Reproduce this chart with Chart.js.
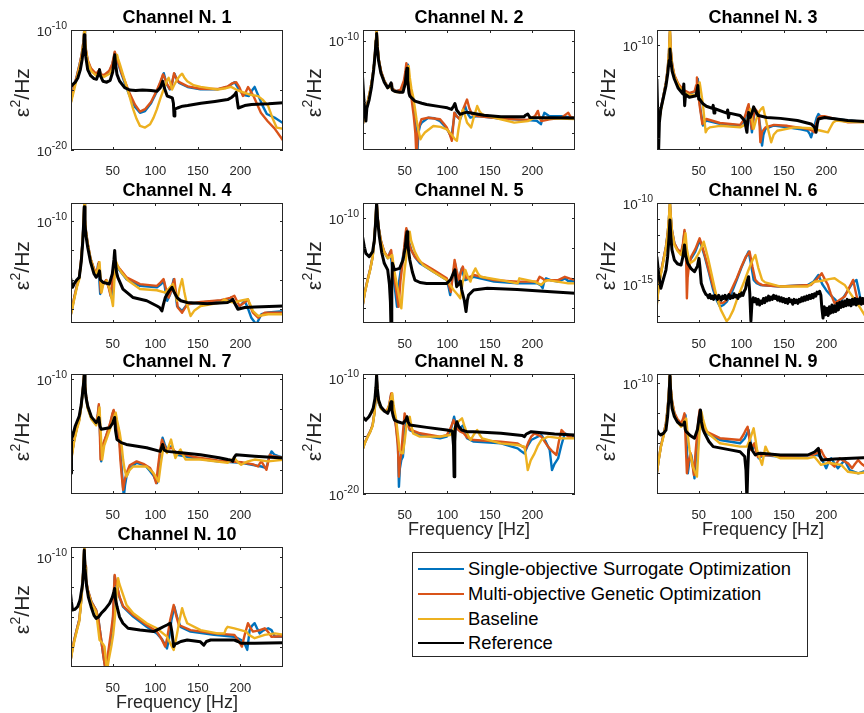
<!DOCTYPE html>
<html>
<head>
<meta charset="utf-8">
<script src="https://cdn.jsdelivr.net/npm/chart.js@4.4.1/dist/chart.umd.min.js"></script>
<style>
  html, body { margin: 0; padding: 0; background: #fff; }
  body { width: 864px; height: 713px; position: relative; overflow: hidden; font-family: "Liberation Sans", Arial, sans-serif; }
  canvas.panel { position: absolute; }
  #legend { position: absolute; left: 412px; top: 552px; width: 394px; height: 103px; border: 1px solid #262626; background: #fff; }
  #legend .row { position: absolute; left: 0; height: 24px; width: 392px; font-size: 18.4px; line-height: 24px; color: #000; }
  #legend .swatch { position: absolute; left: 5px; top: 11px; width: 46px; height: 2px; }
  #legend .label { position: absolute; left: 55px; white-space: nowrap; }
</style>
</head>
<body>
<div id="legend"></div>
<script>
// PSD per channel: [frequency in Hz, log10 of PSD]
const seriesNames = ["Single-objective Surrogate Optimization", "Multi-objective Genetic Optimization", "Baseline", "Reference"];
const channelNames = ["Channel N. 1", "Channel N. 2", "Channel N. 3", "Channel N. 4", "Channel N. 5",
                      "Channel N. 6", "Channel N. 7", "Channel N. 8", "Channel N. 9", "Channel N. 10"];
const xTicks = [50, 100, 150, 200];
const xRange = [1, 250];
// y limits as exponents
const yRanges = [[-20, -10], [-13.55, -9.65], [-13.39, -9.52], [-13.48, -9.38], [-13.5, -9.5],
                 [-17.41, -10], [-13.8, -9.83], [-20, -9.66], [-13.7, -9.7], [-13.67, -9.67]];
const yTickMarks = [[-20, -15, -10], [-13, -12, -11, -10], [-13, -12, -11, -10], [-13, -12, -11, -10], [-13, -12, -11, -10],
                    [-17, -16, -15, -14, -13, -12, -11, -10], [-13, -12, -11, -10], [-20, -15, -10], [-13, -12, -11, -10], [-13, -12, -11, -10]];
const yTickLabels = [[-20, -10], [-10], [-10], [-10], [-10], [-15, -10], [-10], [-20, -10], [-10], [-10]];

const ch1Surrogate = [[0,-16.3],[2.5,-15.4],[5,-14.6],[8,-13.8],[11,-12.9],[13.5,-12.1],[15.2,-11.2],[16.1,-10.5],[16.7,-10.0],[17.4,-10.7],[18.5,-11.7],[20.6,-12.6],[24.5,-13.3],[30.5,-13.7],[33,-13.5],[34.5,-13.35],[36,-13.75],[40,-13.8],[46,-13.45],[49.5,-12.9],[51.3,-12.3],[52.4,-11.9],[53.5,-12.2],[56,-12.7],[60,-13.6],[65,-14.6],[70,-15.5],[76,-16.4],[82,-16.9],[88,-16.75],[95,-16.1],[102,-15.1],[106,-14.4],[108.5,-13.9],[110,-13.6],[111.5,-14.0],[114,-14.6],[117,-14.95],[119,-14.7],[121,-14.0],[122.6,-13.65],[124.5,-14.0],[128,-14.4],[138,-14.75],[153,-14.95],[173,-14.95],[185,-14.75],[190,-14.5],[193,-14.35],[197,-14.8],[203,-15.4],[210,-15.5],[214,-15.0],[216.7,-14.74],[220,-15.3],[226,-16.3],[231,-17.0],[240,-17.3],[252,-17.85]];
const ch1Genetic = [[0,-16.3],[2.5,-15.4],[5,-14.6],[8,-13.8],[11,-12.9],[13.5,-12.05],[15.2,-11.15],[16.1,-10.45],[16.7,-9.95],[17.4,-10.65],[18.5,-11.6],[20.6,-12.5],[24.5,-13.2],[30.5,-13.65],[33,-13.45],[34.5,-13.3],[36,-13.7],[40,-13.75],[46,-13.4],[49.5,-12.8],[51.3,-12.2],[52.4,-11.8],[53.5,-12.1],[56,-12.6],[60,-13.5],[65,-14.4],[70,-15.3],[76,-16.2],[82,-16.8],[88,-16.6],[95,-16.0],[102,-15.0],[106,-14.3],[109,-13.7],[110.5,-13.9],[113,-14.4],[117,-14.9],[119.5,-14.5],[122,-13.6],[124,-13.95],[127,-14.3],[138,-14.7],[153,-14.9],[173,-14.92],[185,-14.7],[190,-14.45],[195,-14.35],[199,-14.8],[203,-15.5],[206,-15.2],[209,-14.75],[212,-15.1],[216,-15.6],[224,-16.9],[232,-17.6],[240,-18.2],[252,-19.4]];
const ch1Baseline = [[0,-16.34],[2.5,-15.6],[5,-14.9],[8,-14.0],[11,-13.1],[13.5,-12.3],[15.2,-11.3],[16.1,-10.6],[16.6,-10.06],[17.3,-10.7],[18.5,-11.7],[20.6,-12.6],[24.5,-13.4],[30.5,-13.8],[33,-13.65],[34.5,-13.53],[36,-13.85],[40,-13.9],[46.4,-13.64],[51,-13.1],[53.5,-12.5],[55.1,-12.07],[56.3,-12.4],[58.2,-12.8],[62,-13.7],[66.2,-14.68],[70,-15.6],[74.1,-16.61],[78,-17.4],[82,-17.99],[88,-18.13],[93.9,-17.85],[98,-17.3],[101.8,-16.61],[106,-15.7],[109.7,-14.96],[113,-14.3],[115.7,-13.99],[117.5,-14.4],[119.7,-14.96],[122,-14.6],[125.6,-14.13],[129,-13.8],[131.5,-13.64],[134,-13.95],[137.5,-14.27],[145,-14.6],[153.3,-14.74],[173.1,-14.96],[183,-14.85],[189,-14.74],[196,-15.0],[204.8,-15.23],[212,-15.4],[220.7,-15.51],[226,-15.8],[232.6,-16.34],[238,-17.4],[242.5,-18.13],[252,-18.26]];
const ch1Reference = [[0,-14.82],[3,-14.55],[6,-14.35],[9,-14.0],[12,-13.3],[14,-12.5],[15.5,-11.6],[16.2,-10.9],[16.7,-10.4],[17.3,-11.1],[18.3,-12.2],[20.6,-13.3],[24,-13.8],[28,-14.05],[31,-14.1],[33,-13.7],[34.5,-13.3],[35.5,-13.8],[38.5,-14.27],[43,-14.35],[47,-14.2],[50,-13.5],[51.5,-12.6],[52.4,-12.07],[53.3,-12.8],[55,-13.7],[58,-14.25],[64,-14.8],[70,-15.0],[77,-15.05],[85,-15.0],[95,-15.05],[102,-15.1],[106,-14.8],[108.7,-14.27],[110.5,-14.8],[114,-15.5],[120,-15.65],[121.3,-16.1],[122,-17.16],[123,-16.6],[126,-16.5],[132,-16.35],[138,-16.3],[153.6,-16.1],[170,-15.95],[185,-15.8],[190,-15.6],[193,-15.4],[195,-15.2],[196.5,-16.0],[197.5,-16.5],[205,-16.3],[213,-16.2],[233,-16.15],[252,-16.06]];

const ch2Surrogate = [[0.4,-12.77],[3,-12.4],[6.3,-12.02],[9.5,-11.6],[12.3,-11.16],[14.3,-10.7],[15.8,-10.2],[17,-9.7],[18,-10.2],[19.5,-10.6],[22,-10.99],[26,-11.3],[30,-11.5],[33,-11.45],[34,-11.4],[35,-11.55],[40,-11.64],[46,-11.6],[49.5,-11.35],[51.5,-11.0],[52.7,-10.78],[53.8,-11.1],[56,-11.45],[58,-11.69],[60,-12.0],[62,-12.45],[63.5,-13.0],[64.6,-13.8],[66,-13.0],[68,-12.75],[70,-12.66],[77.7,-12.5],[85,-12.52],[91.5,-12.61],[97,-12.78],[101,-12.93],[105,-13.14],[106.5,-12.8],[109,-12.34],[111,-12.45],[115,-12.55],[118,-12.35],[121,-12.12],[123.5,-12.35],[127,-12.5],[135,-12.45],[163,-12.53],[194.5,-12.58],[205,-12.6],[210,-12.71],[212,-12.5],[214,-12.34],[220,-12.45],[234,-12.45],[252,-12.52]];
const ch2Genetic = [[0.4,-12.77],[3,-12.4],[6.3,-12.02],[9.5,-11.6],[12.3,-11.16],[14.3,-10.7],[15.8,-10.15],[17,-9.67],[18,-10.15],[19.5,-10.6],[22.2,-10.99],[26,-11.3],[30.1,-11.5],[33,-11.45],[34.1,-11.4],[35,-11.55],[40,-11.64],[45,-11.6],[49,-11.3],[50.8,-11.0],[51.9,-10.73],[53,-11.05],[55,-11.45],[57.1,-11.69],[60.6,-12.45],[62.5,-13.0],[63.8,-13.8],[65.5,-12.9],[69.7,-12.55],[77.7,-12.5],[91.5,-12.55],[96,-12.7],[99.4,-12.82],[103,-13.05],[105.4,-13.25],[106.8,-12.8],[108.2,-12.34],[111,-12.45],[114.5,-12.55],[119,-12.2],[123.2,-11.91],[126,-12.2],[129.2,-12.39],[135.1,-12.45],[162.8,-12.53],[194.5,-12.57],[203,-12.45],[206.4,-12.28],[208.5,-12.5],[210.4,-12.61],[220,-12.55],[234.2,-12.5],[239,-12.4],[242.1,-12.34],[245,-12.48],[252.4,-12.52]];
const ch2Baseline = [[0.4,-12.77],[3,-12.4],[6.3,-12.04],[9.5,-11.62],[12.3,-11.18],[14.3,-10.72],[15.8,-10.15],[17,-9.67],[18,-10.15],[19.5,-10.62],[22.2,-11.03],[26,-11.32],[30.1,-11.53],[33,-11.5],[34.1,-11.45],[35,-11.58],[40,-11.67],[47,-11.67],[51,-11.4],[53.3,-11.1],[54.7,-10.83],[56,-11.2],[57.8,-11.55],[59.8,-11.8],[62,-12.2],[63.8,-12.55],[66,-12.9],[68.5,-13.2],[70.5,-13.1],[73.7,-12.98],[83.6,-12.77],[92,-12.8],[99.4,-12.88],[105,-13.05],[109,-13.2],[111.3,-13.25],[113,-12.9],[115.5,-12.5],[118.5,-12.23],[121,-12.45],[123.2,-12.66],[128,-12.82],[131,-12.5],[135.1,-12.12],[138,-12.3],[141,-12.39],[162.8,-12.55],[178.7,-12.66],[194.5,-12.61],[202.5,-12.5],[252.4,-12.55]];
const ch2Reference = [[0.4,-11.16],[2,-11.9],[3.5,-12.4],[4.4,-12.61],[5.5,-12.2],[8.3,-11.91],[11,-11.5],[13.5,-10.95],[15.3,-10.4],[16.3,-10.0],[17,-9.76],[17.8,-10.2],[19.3,-10.65],[22,-11.05],[26,-11.35],[30,-11.53],[32.5,-11.45],[34,-11.37],[35.5,-11.6],[38,-11.64],[44,-11.67],[48,-11.67],[50.5,-11.4],[52,-11.0],[52.7,-10.89],[53.5,-11.3],[55,-11.7],[56,-11.8],[62,-11.96],[70,-12.03],[75.7,-12.07],[91.5,-12.14],[100,-12.18],[105,-12.23],[107.5,-12.12],[109,-12.04],[111,-12.25],[115,-12.39],[119,-12.35],[123,-12.32],[143,-12.42],[163,-12.47],[190,-12.47],[192,-12.42],[194.5,-12.38],[197,-12.49],[252,-12.51]];

const ch3Surrogate = [[0.8,-13.04],[3,-12.5],[5.5,-12.07],[8.5,-11.65],[11.5,-11.21],[13.5,-10.8],[15,-10.3],[16.2,-9.6],[17.2,-10.2],[18.8,-10.65],[21.4,-11.0],[26,-11.3],[31.3,-11.48],[39.2,-11.58],[43,-11.53],[47,-11.5],[48.3,-11.3],[49,-11.1],[50,-11.5],[52,-12.07],[55,-12.6],[57,-12.5],[59,-12.44],[75,-12.55],[98.6,-12.6],[102,-12.5],[104.6,-12.34],[107,-12.1],[108.6,-11.96],[110,-12.3],[112.5,-12.82],[114.5,-12.35],[116.5,-12.12],[118.5,-12.2],[120.4,-12.28],[122.5,-12.7],[124.4,-13.25],[126,-12.9],[128.4,-12.71],[138.3,-12.6],[154,-12.66],[170,-12.72],[178,-12.77],[180.5,-12.88],[182,-12.98],[184,-12.8],[186,-12.6],[188.5,-12.35],[190.6,-12.23],[193,-12.3],[197.7,-12.34],[225,-12.44],[252,-12.5]];
const ch3Genetic = [[0.8,-13.04],[3,-12.5],[5.5,-12.07],[8.5,-11.65],[11.5,-11.21],[13.5,-10.78],[15,-10.25],[16.2,-9.54],[17.2,-10.15],[18.8,-10.62],[21.4,-10.97],[26,-11.25],[31.3,-11.44],[39.2,-11.55],[45.2,-11.5],[47,-11.3],[47.9,-11.05],[49,-11.45],[51.1,-11.96],[54.3,-12.55],[56,-12.45],[59,-12.39],[74.9,-12.52],[98.7,-12.58],[102,-12.45],[104.6,-12.28],[107,-12.05],[108.6,-11.91],[110,-12.25],[112.5,-12.71],[114.5,-12.3],[116.5,-12.07],[118.5,-12.15],[120.4,-12.23],[121.5,-12.6],[122.4,-13.14],[124.5,-12.8],[128.4,-12.66],[138.3,-12.58],[154.1,-12.61],[177.9,-12.71],[183,-12.76],[185.8,-12.82],[188,-12.55],[190.6,-12.34],[193,-12.3],[197.7,-12.3],[225.4,-12.5],[252,-12.48]];
const ch3Baseline = [[0.8,-13.04],[3,-12.55],[5.5,-12.12],[8.5,-11.7],[11.5,-11.26],[13.5,-10.85],[15,-10.3],[16.2,-9.51],[17.2,-10.2],[18.8,-10.68],[21.4,-11.01],[26,-11.3],[31.3,-11.51],[39.2,-11.62],[47.1,-11.6],[49.5,-11.45],[51.1,-11.21],[53,-11.55],[55.1,-11.96],[57,-12.5],[58.2,-12.82],[60,-12.72],[63,-12.66],[74.9,-12.61],[98.7,-12.66],[104,-12.58],[106.6,-12.5],[108.8,-12.25],[110.5,-12.07],[112.5,-12.4],[114.5,-12.71],[117,-12.45],[120.4,-12.18],[123,-12.08],[125.6,-12.01],[128,-12.3],[130.4,-12.61],[133,-12.9],[135.1,-13.14],[138,-12.9],[142.2,-12.77],[162,-12.66],[181.9,-12.69],[193.7,-12.77],[201.7,-12.82],[205,-12.65],[208,-12.5],[211.6,-12.44],[225.4,-12.48],[252,-12.5]];
const ch3Reference = [[0.8,-11.1],[1.8,-12.2],[2.8,-13.5],[3.8,-12.5],[5.5,-12.07],[8.5,-11.7],[11.5,-11.32],[13.5,-10.95],[15.2,-10.5],[16.2,-10.13],[17.2,-10.5],[18.8,-10.85],[21.4,-11.1],[26,-11.4],[31.3,-11.58],[32.5,-11.26],[33.5,-11.96],[34.5,-11.6],[39,-11.69],[47,-11.64],[49,-11.31],[50,-11.75],[51,-11.75],[55,-11.9],[59,-11.98],[66,-12.05],[67,-11.95],[68,-12.2],[69,-12.06],[83,-12.2],[84,-12.1],[85,-12.35],[86,-12.2],[98.6,-12.28],[104,-12.45],[106.6,-12.82],[107.5,-12.5],[108.6,-12.18],[110.5,-12.34],[112.5,-12.2],[114.5,-12.0],[117,-12.15],[120,-12.28],[130,-12.34],[146,-12.37],[166,-12.44],[182,-12.55],[186,-12.65],[187.8,-12.82],[189.2,-12.55],[190.6,-12.39],[198,-12.34],[225,-12.44],[252,-12.48]];

const ch4Surrogate = [[0,-13.3],[2.5,-12.95],[4.8,-12.61],[8,-12.2],[10.7,-11.92],[13,-11.3],[14.8,-10.6],[15.9,-9.95],[16.6,-9.39],[17.4,-9.95],[18.6,-10.35],[20.6,-10.77],[24,-11.3],[28,-11.65],[30.5,-11.8],[32,-11.65],[32.9,-11.46],[34,-11.9],[35.3,-12.49],[37.5,-12.2],[42.4,-12.03],[46,-12.3],[48.3,-12.61],[50,-12.1],[51.5,-11.6],[52.3,-11.35],[54,-11.5],[58.2,-11.69],[66,-11.98],[82,-12.21],[102,-12.26],[107,-12.15],[110,-12.03],[112,-12.4],[114,-12.72],[117.7,-12.49],[120,-12.2],[121.6,-11.98],[123.5,-12.4],[125.6,-12.9],[131.5,-13.07],[137.5,-12.84],[153,-12.78],[177,-12.72],[185,-12.68],[189,-12.61],[192,-12.75],[197,-12.95],[201,-12.85],[205,-12.72],[209,-13.0],[212.8,-13.3],[218.7,-13.53],[224.6,-13.18],[232.6,-13.12],[252,-13.07]];
const ch4Genetic = [[0,-13.3],[2.5,-12.95],[4.8,-12.61],[8,-12.2],[10.7,-11.92],[13,-11.28],[14.8,-10.58],[15.9,-9.93],[16.6,-9.37],[17.4,-9.93],[18.6,-10.33],[20.6,-10.75],[24,-11.28],[28,-11.62],[30.5,-11.78],[32.5,-11.6],[33.7,-11.4],[34.8,-11.9],[36.1,-12.44],[38.5,-12.15],[42.4,-12.01],[45.5,-12.3],[47.5,-12.55],[50,-11.95],[51.5,-11.5],[52.3,-11.29],[54,-11.45],[58.2,-11.63],[66.2,-11.92],[82,-12.15],[101.8,-12.21],[106,-12.1],[109.7,-11.98],[112.5,-12.3],[115.7,-12.61],[118.5,-12.38],[121,-12.1],[122.4,-11.98],[124,-12.4],[126.4,-12.95],[131.5,-13.13],[137.5,-12.84],[153.3,-12.76],[177.1,-12.7],[188,-12.62],[192.9,-12.55],[195.5,-12.7],[198.9,-12.9],[204,-12.8],[208.8,-12.67],[211.5,-12.9],[214.7,-13.13],[220.7,-13.3],[228.6,-13.13],[252,-13.13]];
const ch4Baseline = [[0,-13.3],[2.5,-13.0],[4.8,-12.67],[8,-12.25],[10.7,-11.98],[13,-11.35],[14.8,-10.62],[15.9,-9.97],[16.6,-9.39],[17.4,-9.97],[18.6,-10.38],[20.6,-10.79],[24,-11.3],[28,-11.68],[30.5,-11.83],[33,-11.6],[34.5,-11.4],[35.6,-11.9],[36.8,-12.44],[39,-12.15],[43.2,-12.03],[47,-12.4],[50.3,-12.9],[52,-12.0],[53.3,-11.55],[54.3,-11.4],[56,-11.55],[60.2,-11.75],[68.1,-12.03],[82,-12.32],[101.8,-12.36],[111.7,-12.44],[116,-12.3],[120.8,-12.15],[123,-12.4],[125.6,-12.72],[128.5,-12.3],[131.5,-11.98],[134,-12.4],[136.7,-12.78],[141.4,-13.24],[146,-13.05],[153.3,-12.9],[177.1,-12.78],[181.1,-12.67],[186,-12.75],[192.9,-12.78],[200,-12.72],[208.8,-12.67],[211.5,-12.85],[214.7,-13.07],[220.7,-13.24],[232.6,-13.18],[252,-13.18]];
const ch4Reference = [[0,-11.86],[1.5,-12.1],[2.8,-12.26],[5.5,-12.1],[8,-12.0],[10.7,-11.92],[13,-11.4],[14.8,-10.7],[15.9,-10.05],[16.6,-9.51],[17.4,-10.1],[18.6,-10.5],[20.6,-10.89],[24,-11.4],[28,-11.8],[30.5,-11.92],[33.5,-11.8],[34.5,-11.7],[35.5,-12.0],[38.5,-12.09],[46,-12.15],[49.5,-11.8],[51.5,-11.3],[52.3,-11.0],[53.2,-11.4],[54.5,-11.75],[56,-11.92],[62,-12.32],[74,-12.61],[90,-12.72],[102,-12.9],[105,-12.95],[107.8,-13.07],[109.5,-12.85],[111.7,-12.61],[116,-12.4],[119.6,-12.26],[122.5,-12.45],[125.6,-12.61],[130,-12.72],[137.5,-12.78],[161,-12.82],[185,-12.78],[189,-12.72],[191,-12.67],[194,-12.85],[197,-13.01],[205,-12.95],[217,-12.93],[252,-12.9]];

const ch5Surrogate = [[0.4,-12.96],[3,-12.5],[6.3,-12.07],[9.5,-11.7],[12.3,-11.29],[14.3,-10.75],[15.8,-10.1],[17,-9.46],[18,-9.95],[19.5,-10.35],[22.2,-10.79],[26,-11.15],[30.1,-11.34],[32,-11.2],[33,-11.12],[34.5,-11.45],[36,-11.84],[38.5,-12.35],[41,-12.96],[43.5,-12.1],[46,-11.62],[49,-11.1],[51.5,-10.6],[52.7,-10.4],[54,-10.7],[57.8,-11.07],[62,-11.3],[67.8,-11.51],[83.6,-11.79],[99.4,-12.07],[101.5,-12.3],[103.4,-12.57],[106,-12.0],[109,-11.51],[111,-11.85],[113,-12.18],[115,-11.9],[117,-11.68],[119,-11.9],[121,-12.07],[131,-11.96],[155,-12.12],[182.6,-12.18],[206,-12.18],[210,-12.25],[212,-12.34],[214,-12.1],[216,-12.01],[222,-12.08],[230,-12.12],[236,-12.05],[238,-12.01],[242,-12.1],[252,-12.12]];
const ch5Genetic = [[0.4,-12.96],[3,-12.5],[6.3,-12.07],[9.5,-11.7],[12.3,-11.29],[14.3,-10.73],[15.8,-10.05],[17,-9.42],[18,-9.92],[19.5,-10.33],[22.2,-10.77],[26,-11.12],[30.1,-11.31],[33,-11.15],[34.1,-11.07],[35.5,-11.45],[36.8,-11.79],[40,-12.4],[42.8,-12.96],[45,-12.1],[47.1,-11.6],[49.5,-10.95],[51,-10.5],[51.9,-10.34],[53.5,-10.7],[57.1,-11.04],[62,-11.3],[67.8,-11.46],[83.6,-11.73],[99.4,-12.01],[102,-12.25],[104.2,-12.46],[106.5,-11.9],[108.6,-11.4],[111,-11.75],[113.7,-12.07],[116,-11.8],[118.2,-11.62],[120.5,-11.85],[122.6,-12.01],[131.3,-11.9],[155,-12.07],[182.6,-12.12],[205.6,-12.12],[208.4,-11.96],[211,-12.0],[214.4,-12.07],[230.2,-12.07],[238.1,-11.96],[244,-12.02],[252.4,-12.07]];
const ch5Baseline = [[0.4,-12.96],[3,-12.52],[6.3,-12.1],[9.5,-11.72],[12.3,-11.31],[14.3,-10.75],[15.8,-10.05],[17,-9.42],[18,-9.95],[19.5,-10.37],[22.2,-10.81],[26,-11.15],[30.1,-11.34],[33.5,-11.28],[35.3,-11.23],[36.5,-11.5],[38,-11.79],[42,-12.4],[46,-13.01],[48,-12.3],[49.9,-11.73],[53,-11.0],[55,-10.6],[55.9,-10.46],[57.5,-10.75],[61.8,-11.12],[66,-11.35],[71.7,-11.57],[83.6,-11.79],[99.4,-12.07],[107.4,-12.4],[112,-12.55],[115.3,-12.68],[118,-12.15],[121.2,-11.73],[124,-11.95],[127.2,-12.12],[130,-11.85],[133.1,-11.68],[136,-11.85],[139.1,-11.96],[162.8,-12.07],[182.6,-12.18],[184.6,-12.01],[202.5,-12.12],[210.4,-12.23],[214,-12.12],[218.3,-12.07],[242.1,-12.18],[252.4,-12.18]];
const ch5Reference = [[0.4,-10.62],[2.5,-10.95],[4.4,-11.18],[8.3,-11.29],[12.3,-11.12],[14.3,-10.75],[15.8,-10.15],[17,-9.51],[18,-10.0],[20.2,-10.62],[23,-11.15],[26,-11.51],[30,-11.73],[32,-12.2],[33.2,-12.8],[34,-13.8],[34.8,-12.5],[35.5,-11.51],[38,-11.73],[44,-11.68],[48,-11.4],[50.5,-11.0],[52,-10.6],[52.7,-10.46],[53.6,-10.9],[56,-11.4],[59,-11.8],[62,-12.07],[68,-12.15],[75.7,-12.18],[99.4,-12.18],[104,-12.05],[107,-11.85],[109,-11.73],[111,-12.29],[114,-12.18],[115.5,-12.1],[117,-12.4],[120,-12.75],[122,-13.12],[123.5,-12.75],[125,-12.57],[131,-12.4],[147,-12.34],[182,-12.38],[222,-12.46],[252,-12.51]];

const ch6Surrogate = [[0.8,-16.19],[3,-15.1],[5.5,-14.34],[8.5,-13.5],[11.5,-12.7],[13.5,-11.9],[15,-11.0],[16.2,-10.02],[17.3,-10.9],[18.6,-11.7],[21.4,-12.49],[25,-12.9],[29.3,-13.11],[31.5,-12.6],[33.3,-11.77],[34.5,-12.6],[36,-13.93],[38,-13.6],[41.2,-13.42],[46,-13.0],[49,-12.6],[51,-12.28],[53,-12.6],[57.1,-13.31],[62,-14.3],[67,-15.37],[71,-16.0],[75,-16.4],[79,-16.3],[83,-16.09],[89,-15.5],[94.7,-14.75],[100,-14.0],[105,-13.4],[108.6,-13.0],[111.5,-13.8],[114.5,-14.75],[118,-14.95],[122.4,-15.06],[146,-15.16],[178,-15.06],[185,-14.85],[190.6,-14.44],[195,-15.0],[200,-15.4],[205,-15.7],[210,-15.95],[215.5,-16.3],[219,-15.9],[224,-15.5],[230,-15.0],[235.3,-14.75],[238,-15.4],[241,-16.19],[246,-16.1],[252,-16.09]];
const ch6Genetic = [[0.8,-16.19],[3,-15.1],[5.5,-14.34],[8.5,-13.5],[11.5,-12.7],[13.5,-11.9],[15,-11.0],[16.2,-10.02],[17.3,-10.9],[18.6,-11.7],[21.4,-12.49],[25,-12.85],[29.3,-13.07],[31.5,-12.5],[33.3,-11.67],[34.5,-12.5],[35.3,-13.72],[36.1,-15.88],[37,-14.6],[38,-14.14],[41.2,-13.31],[46,-12.85],[49,-12.45],[51.1,-12.18],[53,-12.5],[57.1,-13.21],[62,-14.2],[67,-15.16],[71,-15.8],[74.9,-16.19],[79,-16.15],[82.8,-15.99],[89,-15.3],[94.7,-14.65],[100,-13.95],[105,-13.35],[109.7,-13.0],[113,-13.9],[116.5,-14.75],[120,-14.95],[124.4,-15.06],[146.2,-15.16],[181.9,-15.06],[188,-14.75],[194.5,-14.34],[198,-14.7],[201.7,-15.06],[205,-15.6],[209.6,-16.19],[215,-16.0],[221.5,-15.78],[226,-15.3],[231.4,-14.75],[234,-15.4],[237.3,-16.19],[252,-16.19]];
const ch6Baseline = [[0.8,-16.3],[3,-15.2],[5.5,-14.44],[8.5,-13.6],[11.5,-12.8],[13.5,-11.95],[15,-10.95],[16.2,-9.92],[17.3,-10.9],[18.6,-11.75],[21.4,-12.59],[25,-12.95],[29.3,-13.21],[32,-12.7],[34.5,-11.87],[36,-12.8],[39.2,-13.72],[42,-13.65],[45.2,-13.52],[50,-13.1],[53.5,-12.7],[55.9,-12.39],[58,-12.8],[61,-13.42],[66,-14.6],[70.9,-15.78],[76,-16.6],[82.8,-17.3],[86,-17.1],[90.7,-16.6],[96,-15.8],[102.6,-14.96],[108,-14.2],[113,-13.55],[116.5,-13.21],[120,-14.0],[124.4,-14.75],[128,-14.9],[132.3,-14.96],[146.2,-15.16],[177.9,-15.16],[185.8,-14.86],[195,-14.8],[203,-14.7],[209.6,-14.65],[215,-14.85],[221.5,-15.06],[227,-15.5],[233.4,-15.99],[240,-16.5],[246,-17.02],[252,-17.3]];
const ch6Reference = [[0.8,-13.31],[3,-14.4],[5.5,-15.27],[8.5,-14.7],[11.5,-14.14],[13.5,-13.3],[15,-12.2],[16.2,-11.05],[17.3,-12.1],[18.6,-12.9],[21.4,-13.52],[25,-13.75],[29.3,-13.83],[31.5,-13.3],[33.3,-12.59],[34.5,-13.2],[37,-13.72],[41,-14.05],[45,-14.24],[48.5,-13.9],[50.3,-13.42],[51.5,-14.0],[53,-14.96],[56,-15.4],[58.5,-15.65],
  [60,-15.7],[61.5,-15.85],[63,-15.65],[64.5,-15.9],[66,-15.75],[67.5,-15.95],[69,-15.7],[70.5,-15.8],[72,-15.95],[73.5,-15.7],[75,-15.85],[76.5,-16.0],[78,-15.75],[79.5,-15.9],[81,-15.7],[82.5,-15.95],[84,-15.8],[85.5,-15.65],[87,-15.9],[88.5,-15.75],[90,-15.85],[91.5,-15.6],[93,-15.8],[94.5,-15.7],[96,-15.9],[97.5,-15.65],[99,-15.75],[100.5,-15.55],[102,-15.7],[103.5,-15.45],[105,-15.3],[106.5,-14.9],[108.6,-14.55],[110,-15.6],[111.3,-17.3],
  [112.5,-16.2],[114,-15.85],[115.5,-16.1],[117,-15.9],[118.5,-16.25],[120,-15.95],[121.5,-16.3],[123,-16.05],[124.5,-16.2],[126,-15.9],[127.5,-16.15],[129,-15.85],[130.5,-16.05],[132,-15.75],[133.5,-16.0],[135,-15.8],[136.5,-15.95],[138,-15.7],[139.5,-15.9],[141,-15.75],[142.5,-16.0],[144,-15.8],[145.5,-16.05],[147,-15.85],[148.5,-16.1],[150,-15.9],[151.5,-16.15],[153,-15.95],[154.5,-16.2],[156,-15.9],[157.5,-16.1],[159,-16.0],[160.5,-16.25],[162,-15.95],[163.5,-16.15],[165,-16.0],[166.5,-16.2],[168,-15.95],[169.5,-16.1],[171,-15.85],[172.5,-16.05],[174,-15.8],[175.5,-16.0],[177,-15.75],[178.5,-15.95],[180,-15.7],[181.5,-15.9],[183,-15.65],[184.5,-15.85],[186,-15.6],[187.5,-15.75],[189,-15.5],[190.5,-15.6],[192,-15.45],[193.5,-15.7],
  [194.5,-16.4],[196,-17.1],[197.5,-16.4],[199,-16.9],[200.5,-16.5],[202,-16.95],[203.5,-16.4],[205,-16.8],[206.5,-16.3],[208,-16.75],[209.5,-16.35],[211,-16.7],[212.5,-16.2],[214,-16.6],[215.5,-16.15],[217,-16.45],[218.5,-16.1],[220,-16.4],[221.5,-16.05],[223,-16.35],[224.5,-15.95],[226,-16.3],[227.5,-16.0],[229,-16.35],[230.5,-15.95],[232,-16.25],[233.5,-15.9],[235,-16.3],[236.5,-15.95],[238,-16.2],[239.5,-15.85],[241,-16.25],[242.5,-15.9],[244,-16.2],[245.5,-15.85],[247,-16.15],[248.5,-15.9],[250,-16.2],[251.5,-15.95]];

const ch7Surrogate = [[0,-12.89],[2.5,-12.4],[4.8,-12.0],[8,-11.6],[10.7,-11.33],[13,-10.9],[14.8,-10.4],[15.9,-10.05],[16.6,-9.78],[17.4,-10.15],[18.6,-10.55],[20.6,-10.94],[25,-11.3],[30.5,-11.5],[32.5,-11.2],[33.7,-10.89],[34.8,-11.6],[36.5,-12.72],[38.5,-12.2],[42.4,-11.89],[47,-11.5],[49.5,-11.2],[51,-11.05],[52.5,-11.2],[54,-11.4],[56.3,-11.66],[58.5,-12.2],[60,-12.77],[61.5,-13.3],[63,-13.9],[64.5,-13.5],[66.2,-13.22],[70,-12.95],[78,-12.77],[88,-12.85],[94,-13.05],[98,-13.2],[102,-13.44],[104,-12.9],[105.8,-12.44],[108.6,-11.94],[111,-12.15],[113.7,-12.33],[116.5,-12.25],[119.6,-12.22],[122,-12.4],[125.6,-12.5],[145,-12.61],[173,-12.72],[201,-12.77],[224.6,-12.89],[230.6,-12.94],[233.5,-12.6],[236.5,-12.39],[240,-12.5],[244.4,-12.55],[252,-12.61]];
const ch7Genetic = [[0,-12.89],[2.5,-12.4],[4.8,-12.0],[8,-11.6],[10.7,-11.33],[13,-10.88],[14.8,-10.38],[15.9,-10.02],[16.6,-9.75],[17.4,-10.12],[18.6,-10.52],[20.6,-10.92],[25,-11.28],[30.5,-11.47],[32.5,-11.15],[33.7,-10.83],[34.7,-11.6],[35.7,-12.66],[38,-12.2],[42.4,-11.86],[47,-11.45],[49.5,-11.15],[51.1,-11.02],[52.5,-11.2],[54,-11.38],[56.3,-11.61],[57.8,-12.1],[59,-12.66],[60.6,-13.2],[62.2,-13.66],[64,-13.35],[66.2,-13.11],[70,-12.85],[78.1,-12.72],[86,-12.8],[93.9,-12.94],[98,-13.15],[101,-13.44],[103,-12.95],[105,-12.5],[107.8,-12.0],[110,-12.15],[112.9,-12.33],[116,-12.3],[119.7,-12.27],[122.5,-12.38],[125.6,-12.44],[145.4,-12.57],[173.1,-12.69],[200.9,-12.75],[215,-12.82],[220.7,-12.89],[222.5,-12.8],[224.6,-12.72],[227.5,-12.85],[230.6,-13.0],[232.5,-12.75],[234.5,-12.5],[238,-12.55],[244.4,-12.57],[252,-12.61]];
const ch7Baseline = [[0,-12.89],[2.5,-12.45],[4.8,-12.05],[8,-11.65],[10.7,-11.39],[13,-10.92],[14.8,-10.4],[15.9,-10.05],[16.6,-9.77],[17.4,-10.15],[18.6,-10.58],[20.6,-10.97],[25,-11.33],[30.5,-11.53],[33,-11.2],[34.5,-10.94],[35.8,-11.7],[37.6,-12.66],[40,-12.2],[43.2,-11.94],[48,-11.55],[51.5,-11.25],[53.5,-11.11],[55,-11.35],[58.2,-11.77],[60.5,-12.2],[62.2,-12.66],[64,-13.0],[66.2,-13.22],[70,-13.0],[74.1,-12.89],[89.9,-12.89],[97.9,-13.11],[101,-13.25],[103.8,-13.39],[106.5,-12.8],[109.7,-12.22],[111.5,-12.35],[113.7,-12.44],[116,-12.2],[118.5,-12.0],[121,-12.3],[123.6,-12.61],[126.5,-12.45],[129.6,-12.33],[132.5,-12.5],[135.5,-12.66],[153.3,-12.66],[185,-12.77],[189,-12.68],[192.9,-12.61],[197,-12.75],[200.9,-12.83],[204,-12.78],[208.8,-12.72],[216.7,-12.66],[232.6,-12.72],[252,-12.66]];
const ch7Reference = [[1,-11.77],[1.3,-13.11],[1.8,-11.9],[2.8,-11.89],[6,-11.55],[10.7,-11.22],[13,-10.85],[14.8,-10.4],[15.9,-10.1],[16.6,-9.86],[17.4,-10.25],[18.6,-10.6],[20.6,-10.89],[25,-11.25],[30.5,-11.44],[32.5,-11.35],[33.7,-11.27],[35,-11.55],[36.5,-11.66],[46.4,-11.61],[50,-11.45],[51.5,-11.33],[52.3,-11.27],[53.3,-11.7],[55,-12.0],[60,-12.1],[66,-12.16],[89.9,-12.27],[105.8,-12.39],[107.5,-12.25],[108.6,-12.16],[110.5,-12.35],[113.7,-12.39],[133.4,-12.44],[153,-12.5],[175,-12.6],[185,-12.66],[189,-12.68],[191,-12.72],[192.5,-12.6],[195,-12.5],[216.7,-12.55],[252,-12.61]];

const ch8Surrogate = [[0.4,-16.21],[3,-15.6],[6.3,-15.06],[9.5,-14.6],[12.3,-14.06],[14.5,-13.0],[16,-11.6],[17,-9.89],[18,-11.4],[19.5,-12.2],[22.2,-12.62],[26,-12.85],[28.9,-12.91],[31.5,-12.5],[33,-11.9],[34,-11.47],[35,-12.0],[38,-13.34],[40,-14.2],[42,-15.64],[43.2,-19.37],[44.3,-17.8],[46,-17.07],[47.9,-16.79],[50,-14.8],[52,-13.34],[53.5,-13.9],[55.9,-14.49],[67.8,-14.92],[91.5,-15.2],[99.4,-15.06],[104,-14.5],[106.5,-13.8],[108,-13.34],[110,-14.0],[113.3,-14.49],[116,-14.25],[119,-14.06],[121,-14.7],[123.2,-15.2],[131,-15.49],[163,-15.64],[182.6,-16.07],[186.5,-16.3],[190.6,-16.5],[194,-15.9],[198.5,-15.35],[210.4,-14.92],[215,-15.4],[220.3,-16.21],[223,-17.94],[226,-17.4],[230.2,-16.93],[234,-15.8],[238,-14.77],[246,-15.06],[252,-15.12]];
const ch8Genetic = [[0.4,-16.21],[3,-15.6],[6.3,-15.06],[9.5,-14.6],[12.3,-14.06],[14.5,-12.95],[16,-11.5],[17,-9.83],[18,-11.3],[19.5,-12.1],[22.2,-12.56],[26,-12.78],[28.9,-12.85],[31.5,-12.4],[33,-11.8],[34.1,-11.33],[35,-11.9],[38,-13.19],[40,-14.4],[42,-15.92],[43.2,-18.51],[44.5,-17.2],[46,-16.5],[48,-14.6],[49.9,-13.05],[52,-13.7],[55.9,-14.43],[67.8,-14.77],[91.5,-15.06],[99.4,-14.92],[104,-14.3],[107.4,-13.63],[109.5,-14.0],[111.3,-14.34],[115,-14.6],[119.3,-14.77],[123.2,-15.12],[131.1,-15.35],[162.8,-15.49],[182.6,-15.64],[188,-15.9],[192.5,-16.07],[195.5,-15.5],[198.5,-15.06],[202.5,-14.77],[210.4,-15.06],[218.3,-15.92],[223,-16.3],[228.2,-16.64],[231,-15.5],[234.2,-14.49],[238,-14.8],[242.1,-15.06],[252.4,-15.06]];
const ch8Baseline = [[0.4,-16.21],[3,-15.65],[6.3,-15.12],[9.5,-14.65],[12.3,-14.14],[14.5,-13.0],[16,-11.5],[17,-9.83],[18,-11.3],[19.5,-12.15],[22.2,-12.65],[26,-12.85],[28.9,-12.94],[32,-12.3],[34,-11.75],[35.3,-11.33],[37,-12.4],[40,-13.63],[42,-14.9],[44,-16.21],[46,-16.45],[47.9,-16.5],[50,-15.4],[51.9,-14.2],[54,-13.6],[55.9,-13.34],[57.5,-14.0],[59.8,-14.77],[67.8,-15.06],[91.5,-15.06],[103.4,-14.92],[108,-14.4],[111.3,-13.91],[114.5,-13.65],[117.3,-13.48],[120,-14.1],[123.2,-14.77],[127.2,-15.35],[131,-14.9],[135.1,-14.49],[138,-14.9],[141,-15.21],[162.8,-15.64],[182.6,-15.78],[190.6,-15.92],[192.5,-16.8],[194.5,-17.94],[198,-17.1],[202.5,-16.5],[206,-15.9],[210.4,-15.35],[218.3,-15.06],[234.2,-15.21],[252.4,-15.21]];
const ch8Reference = [[0.4,-13.34],[4.4,-13.63],[8,-13.35],[10.3,-13.05],[13,-12.6],[15,-11.8],[16.2,-10.8],[17,-9.75],[17.8,-10.9],[19.3,-11.9],[22,-12.48],[26,-12.85],[30,-13.05],[32,-12.7],[33.3,-12.2],[34,-12.05],[35,-12.8],[36.5,-13.3],[38,-13.63],[43,-13.8],[48,-13.91],[51.5,-13.6],[52.7,-13.34],[54,-13.8],[56,-14.06],[75.7,-14.26],[99.4,-14.49],[106,-14.6],[107.3,-15.8],[108,-18.51],[108.8,-15.5],[109.6,-14.2],[111.3,-13.77],[113.5,-14.2],[117,-14.49],[123,-14.63],[131,-14.63],[163,-14.77],[188,-14.95],[190.6,-15.06],[192.5,-14.85],[194.5,-14.77],[198.5,-14.63],[226,-14.83],[252,-14.92]];

const ch9Surrogate = [[0.8,-13.01],[3,-12.55],[5.5,-12.12],[8.5,-11.75],[11.5,-11.34],[13.5,-10.85],[15,-10.3],[16.2,-9.68],[17.2,-10.2],[18.8,-10.65],[21.4,-11.01],[25,-11.25],[29.3,-11.4],[32,-11.25],[34.5,-11.07],[35.8,-12.0],[37.2,-13.01],[39,-12.6],[41.2,-12.4],[43,-12.7],[45,-13.18],[47,-12.4],[49,-11.79],[50.7,-11.3],[51.9,-10.96],[53.5,-11.2],[56,-11.45],[59,-11.68],[75,-11.9],[98.6,-12.01],[104,-11.85],[106.5,-11.7],[108.6,-11.57],[110.5,-11.9],[112.5,-12.23],[114.5,-12.15],[116.5,-12.07],[118.5,-12.3],[120.4,-12.51],[126.4,-12.4],[146,-12.46],[181.9,-12.4],[189,-12.4],[193.7,-12.46],[196.5,-12.65],[199.7,-12.84],[202.5,-12.65],[205.6,-12.51],[209.5,-12.68],[213.5,-12.84],[217.5,-12.7],[221.5,-12.57],[224.5,-12.75],[227.4,-12.9],[232,-12.95],[237.3,-13.01],[244,-12.95],[252,-12.9]];
const ch9Genetic = [[0.8,-13.01],[3,-12.55],[5.5,-12.12],[8.5,-11.75],[11.5,-11.34],[13.5,-10.85],[15,-10.28],[16.2,-9.66],[17.2,-10.18],[18.8,-10.62],[21.4,-10.99],[25,-11.2],[29.3,-11.34],[31.5,-11.2],[33.3,-11.01],[34.7,-12.0],[36.1,-13.01],[38,-12.6],[40.4,-12.34],[42.5,-12.7],[44.4,-13.07],[46,-12.4],[47.9,-11.79],[49.8,-11.2],[51.1,-10.9],[52.7,-11.15],[55.5,-11.4],[59,-11.62],[74.9,-11.84],[98.7,-11.9],[103,-11.7],[105.5,-11.55],[107.4,-11.46],[109.5,-11.85],[111.3,-12.23],[113.3,-12.1],[115.3,-12.01],[117.3,-12.25],[119.3,-12.46],[126.4,-12.4],[146.2,-12.43],[181.9,-12.4],[188,-12.35],[193.7,-12.23],[195.7,-12.35],[197.7,-12.46],[203,-12.62],[209.6,-12.79],[212.5,-12.65],[215.5,-12.51],[220.5,-12.6],[225.4,-12.68],[230.2,-12.84],[233.5,-12.7],[237.3,-12.57],[241.5,-12.7],[246,-12.79],[252,-12.79]];
const ch9Baseline = [[0.8,-13.01],[3,-12.57],[5.5,-12.14],[8.5,-11.8],[11.5,-11.4],[13.5,-10.9],[15,-10.3],[16.2,-9.66],[17.2,-10.2],[18.8,-10.68],[21.4,-11.07],[25,-11.3],[29.3,-11.46],[32.5,-11.3],[35.3,-11.18],[37,-11.7],[39.2,-12.23],[43.2,-12.79],[47.9,-13.12],[49.5,-12.3],[51,-11.6],[52.2,-11.15],[53.1,-10.96],[55,-11.2],[58,-11.5],[61,-11.68],[74.9,-12.01],[98.7,-12.12],[106.6,-12.12],[110.5,-11.85],[114.5,-11.51],[116.5,-11.85],[118.5,-12.23],[121.5,-12.5],[124.4,-12.73],[126.5,-12.4],[128.4,-12.12],[130.5,-12.25],[132.3,-12.34],[146.2,-12.51],[177.9,-12.51],[185.8,-12.46],[190,-12.6],[193.7,-12.73],[201.7,-12.66],[217.5,-12.73],[221.5,-12.85],[225.4,-12.96],[237.3,-13.01],[252,-12.96]];
const ch9Reference = [[0.8,-11.57],[3,-11.68],[5.5,-11.73],[8.5,-11.68],[11.5,-11.57],[13.5,-11.1],[15,-10.5],[16.2,-9.77],[17.2,-10.4],[18.8,-10.85],[21.4,-11.12],[25,-11.3],[29.3,-11.4],[32,-11.4],[33.3,-11.3],[34.3,-11.55],[35.3,-11.62],[40,-11.75],[45,-11.84],[48.5,-11.55],[50.5,-11.15],[52,-10.9],[53.2,-11.3],[55,-11.55],[57,-11.68],[62,-11.95],[67,-12.12],[87,-12.23],[98.6,-12.29],[104,-12.45],[105.5,-12.9],[106.6,-13.9],[107.6,-12.9],[108.6,-12.23],[110.5,-12.01],[113,-12.25],[116.5,-12.4],[119,-12.36],[122.4,-12.34],[146,-12.4],[178,-12.4],[186,-12.3],[190.6,-12.18],[192.5,-12.45],[194.5,-12.57],[209.6,-12.53],[252,-12.48]];

const ch10Surrogate = [[0,-13.55],[2.5,-13.1],[4.8,-12.77],[8,-12.4],[10.7,-12.1],[12.5,-11.6],[14,-11.1],[15.5,-10.5],[16.6,-9.71],[17.6,-10.35],[18.6,-10.77],[20.6,-11.1],[25,-11.5],[30.5,-11.77],[33.3,-12.1],[36.5,-12.77],[38.5,-13.2],[40.4,-13.55],[42.4,-13.8],[44.5,-13.4],[46.4,-13.0],[48.5,-12.6],[50.3,-12.1],[51.5,-11.3],[52.3,-10.64],[53.5,-10.85],[55.1,-10.99],[58,-11.35],[62,-11.66],[74,-11.99],[89.9,-12.33],[101.8,-12.55],[108,-12.75],[113.7,-13.05],[116,-12.75],[119,-12.1],[122.4,-11.66],[125.5,-12.0],[129.6,-12.33],[141.4,-12.49],[169,-12.6],[192.9,-12.66],[200.9,-12.77],[205,-12.9],[208,-13.1],[209.5,-12.75],[210.8,-12.44],[213.5,-12.3],[216.7,-12.21],[219.5,-12.38],[222.6,-12.55],[227,-12.45],[232.6,-12.38],[236.5,-12.44],[240.5,-12.66],[252,-12.66]];
const ch10Genetic = [[0,-13.55],[2.5,-13.1],[4.8,-12.77],[8,-12.4],[10.7,-12.1],[12.5,-11.6],[14,-11.08],[15.5,-10.45],[16.6,-9.66],[17.6,-10.3],[18.6,-10.73],[20.6,-11.08],[25,-11.5],[30.5,-11.77],[33.3,-12.1],[36.5,-12.77],[39,-13.3],[41.6,-13.8],[43.5,-13.4],[45.6,-12.99],[48,-12.5],[50.3,-11.99],[51.3,-11.2],[52.3,-10.6],[53.5,-10.8],[55.1,-10.97],[58,-11.33],[62.2,-11.64],[74.1,-11.94],[89.9,-12.27],[101.8,-12.49],[107,-12.72],[111.7,-12.99],[114,-12.7],[117.5,-12.1],[121.6,-11.6],[124.5,-11.95],[127.6,-12.27],[141.4,-12.44],[169.2,-12.55],[192.9,-12.6],[197.5,-12.78],[201.7,-12.99],[205,-12.6],[208.8,-12.21],[211.5,-12.35],[214.7,-12.49],[222,-12.45],[228.6,-12.38],[232.5,-12.5],[236.5,-12.66],[252,-12.64]];
const ch10Baseline = [[0,-13.55],[2.5,-13.15],[4.8,-12.83],[8,-12.45],[10.7,-12.16],[12.5,-11.65],[14,-11.1],[15.5,-10.45],[16.6,-9.66],[17.6,-10.35],[18.6,-10.78],[20.6,-11.13],[25,-11.55],[30.5,-11.83],[32.5,-12.3],[34.5,-12.77],[36.5,-12.83],[38.5,-12.9],[40.4,-12.99],[41.8,-13.4],[43.2,-13.8],[45.5,-13.4],[48.3,-12.99],[50.5,-12.6],[52.3,-12.1],[54.5,-11.3],[56.3,-10.71],[57.8,-10.9],[60.2,-11.1],[66.2,-11.6],[74.1,-11.88],[89.9,-12.21],[101.8,-12.38],[113.7,-12.66],[118,-12.9],[121.6,-13.1],[123.5,-12.85],[125.6,-12.55],[128.5,-12.1],[131.5,-11.71],[134,-11.95],[137.5,-12.21],[153.3,-12.44],[173.1,-12.55],[181.1,-12.55],[183,-12.4],[185,-12.33],[192.9,-12.38],[206.8,-12.49],[210,-12.6],[216.7,-12.71],[228.6,-12.6],[240.5,-12.55],[252,-12.6]];
const ch10Reference = [[0,-11.1],[1.5,-11.5],[2.8,-11.77],[5.5,-11.75],[8.7,-11.66],[11.5,-11.45],[13.5,-11.1],[14.7,-10.88],[15.7,-10.4],[16.6,-9.77],[17.5,-10.4],[19.4,-10.99],[21.5,-11.35],[24.6,-11.66],[28,-11.95],[30.5,-12.05],[33.5,-12.0],[36.5,-11.88],[41,-11.75],[46.4,-11.55],[49.5,-11.35],[51.5,-11.15],[52.3,-11.05],[53.2,-11.4],[55.1,-11.66],[58,-12.0],[62,-12.21],[68,-12.38],[82,-12.44],[97.9,-12.49],[105.8,-12.38],[110,-12.32],[113.7,-12.27],[117.7,-12.21],[119.5,-12.5],[121.6,-12.99],[123.5,-12.9],[125.6,-12.88],[130,-12.82],[137.5,-12.77],[153,-12.83],[157,-12.94],[160,-12.82],[165,-12.77],[192.9,-12.77],[197,-12.82],[200.9,-12.88],[216.7,-12.88],[252,-12.86]];

const channels = [
  [ch1Surrogate, ch1Genetic, ch1Baseline, ch1Reference],
  [ch2Surrogate, ch2Genetic, ch2Baseline, ch2Reference],
  [ch3Surrogate, ch3Genetic, ch3Baseline, ch3Reference],
  [ch4Surrogate, ch4Genetic, ch4Baseline, ch4Reference],
  [ch5Surrogate, ch5Genetic, ch5Baseline, ch5Reference],
  [ch6Surrogate, ch6Genetic, ch6Baseline, ch6Reference],
  [ch7Surrogate, ch7Genetic, ch7Baseline, ch7Reference],
  [ch8Surrogate, ch8Genetic, ch8Baseline, ch8Reference],
  [ch9Surrogate, ch9Genetic, ch9Baseline, ch9Reference],
  [ch10Surrogate, ch10Genetic, ch10Baseline, ch10Reference]
];

// MATLAB default line colours
const seriesColors = ["#0072BD", "#D95319", "#EDB120", "#000000"];
const seriesWidths = [2.4, 2.4, 2.4, 3];
const FONT = '"Liberation Sans", Arial, sans-serif';
const INK = "#262626";

// panel grid: canvas left / top for each column / row
const colLeft = [0, 292, 586];
const rowTop = [0, 173, 344, 517];
const withXTitle = [8, 9, 10];

// box, inward ticks, title, y label and 10^n labels, drawn the MATLAB way
const axesBox = {
  id: "axesBox",
  afterDraw(chart, args, opts) {
    const { ctx, chartArea: a, scales: { x, y } } = chart;
    ctx.save();
    ctx.strokeStyle = INK;
    ctx.lineWidth = 1;
    ctx.strokeRect(Math.round(a.left) + 0.5, Math.round(a.top) + 0.5, Math.round(a.width) - 1, Math.round(a.height) - 1);
    ctx.beginPath();
    xTicks.forEach(v => {
      const px = Math.round(x.getPixelForValue(v)) + 0.5;
      ctx.moveTo(px, a.bottom); ctx.lineTo(px, a.bottom - 3);
      ctx.moveTo(px, a.top); ctx.lineTo(px, a.top + 3);
    });
    opts.marks.forEach(e => {
      const py = Math.round(y.getPixelForValue(10 ** e)) + 0.5;
      ctx.moveTo(a.left, py); ctx.lineTo(a.left + 3, py);
      ctx.moveTo(a.right, py); ctx.lineTo(a.right - 3, py);
    });
    ctx.stroke();

    ctx.fillStyle = "#000";
    ctx.font = "bold 18px " + FONT;
    ctx.textAlign = "center";
    ctx.textBaseline = "alphabetic";
    ctx.fillText(opts.title, (a.left + a.right) / 2, a.top - 7);

    // y label: epsilon with a raised 2, then /Hz
    ctx.fillStyle = INK;
    ctx.textAlign = "left";
    ctx.save();
    ctx.translate(a.left - 50, (a.top + a.bottom) / 2 + 3);
    ctx.rotate(-Math.PI / 2);
    ctx.font = "21px " + FONT;
    const wE = ctx.measureText("ε").width;
    const wU = ctx.measureText("/Hz").width;
    ctx.font = "14px " + FONT;
    const w2 = ctx.measureText("2").width;
    let tx = -(wE + w2 + wU) / 2;
    ctx.font = "21px " + FONT;
    ctx.fillText("ε", tx, 7.5);
    ctx.font = "14px " + FONT;
    ctx.fillText("2", tx + wE + 0.5, -1.5);
    ctx.font = "21px " + FONT;
    ctx.fillText("/Hz", tx + wE + w2 + 0.5, 7.5);
    ctx.restore();

    ctx.textBaseline = "middle";
    opts.labels.forEach(e => {
      const py = y.getPixelForValue(10 ** e);
      const exp = String(e);
      ctx.font = "10.5px " + FONT;
      const ew = ctx.measureText(exp).width;
      ctx.font = "13.5px " + FONT;
      const bw = ctx.measureText("10").width;
      const right = a.left - 4;
      ctx.fillText("10", right - ew - bw, py + 2);
      ctx.font = "10.5px " + FONT;
      ctx.fillText(exp, right - ew, py - 4);
    });
    ctx.restore();
  }
};

channels.forEach((series, i) => {
  const col = i % 3, row = Math.floor(i / 3);
  const canvas = document.createElement("canvas");
  canvas.className = "panel";
  canvas.width = 300;
  canvas.height = 200;
  canvas.style.left = colLeft[col] + "px";
  canvas.style.top = rowTop[row] + "px";
  document.body.appendChild(canvas);

  const [lo, hi] = yRanges[i];
  new Chart(canvas, {
    type: "line",
    data: {
      datasets: series.map((pts, k) => ({
        label: seriesNames[k],
        data: pts.map(([f, e]) => ({ x: f, y: 10 ** e })),
        borderColor: seriesColors[k],
        borderWidth: seriesWidths[k],
        pointRadius: 0,
        tension: 0,
        borderJoinStyle: "round",
        order: 3 - k
      }))
    },
    options: {
      responsive: false,
      animation: false,
      events: [],
      layout: { padding: { top: 30, right: 17, left: 0, bottom: 0 } },
      plugins: {
        legend: { display: false },
        tooltip: { enabled: false },
        axesBox: { title: channelNames[i], marks: yTickMarks[i], labels: yTickLabels[i] }
      },
      scales: {
        x: {
          type: "linear", min: xRange[0], max: xRange[1],
          grid: { display: false }, border: { display: false },
          afterBuildTicks: s => { s.ticks = xTicks.map(v => ({ value: v })); },
          afterFit: s => { s.height = 50; },
          ticks: { font: { family: FONT, size: 13 }, color: INK, padding: 6, maxRotation: 0, autoSkip: false },
          title: {
            display: withXTitle.includes(i + 1), text: "Frequency [Hz]",
            font: { family: FONT, size: 18 }, color: INK, padding: { top: 0, bottom: 3 }
          }
        },
        y: {
          type: "logarithmic", min: 10 ** lo, max: 10 ** hi,
          grid: { display: false }, border: { display: false },
          ticks: { display: false },
          afterFit: s => { s.width = 71; },
          title: { display: false }
        }
      }
    },
    plugins: [axesBox]
  });
});

// legend box
const legend = document.getElementById("legend");
const rowTops = [4, 29, 54, 78];
seriesNames.forEach((name, k) => {
  const row = document.createElement("div");
  row.className = "row";
  row.style.top = rowTops[k] + "px";
  row.innerHTML = '<span class="swatch" style="background:' + seriesColors[k] + '"></span><span class="label">' + name + '</span>';
  legend.appendChild(row);
});
</script>
</body>
</html>
